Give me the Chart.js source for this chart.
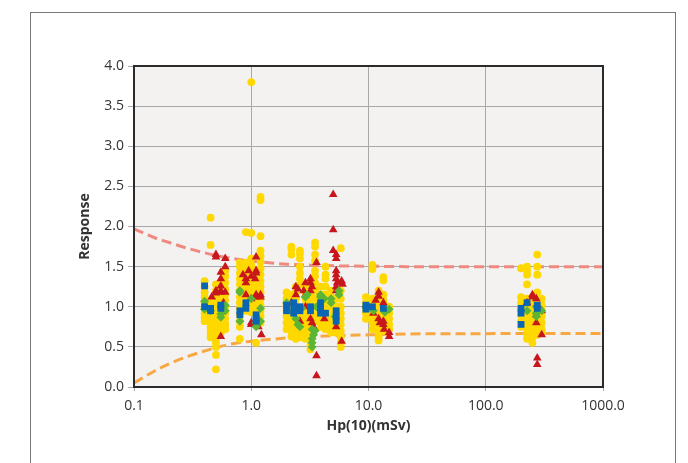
<!DOCTYPE html>
<html>
<head>
<meta charset="utf-8">
<script src="https://cdn.jsdelivr.net/npm/chart.js@4.4.1/dist/chart.umd.min.js"></script>
<style>
  html, body { margin: 0; padding: 0; background: #fff; }
  #wrap { position: relative; width: 688px; height: 463px; }
  #frame { position: absolute; left: 30px; top: 12px; width: 644px; height: 460px;
           border: 1px solid #777; border-bottom: none; }
  canvas { position: absolute; left: 0; top: 0; }
</style>
</head>
<body>
<div id="wrap">
  <div id="frame"></div>
  <canvas id="chart" width="688" height="463"></canvas>
</div>
<script>
// Axis ticks
const xTicks = [0.1, 1, 10, 100, 1000];
const yMin = 0, yMax = 4, yStep = 0.5;

// Trumpet limits
const upperLimit = [[0.1, 1.97], [0.15, 1.86], [0.2, 1.80], [0.3, 1.72], [0.5, 1.64], [0.7, 1.60],
                    [1, 1.57], [2, 1.53], [3, 1.52], [5, 1.51], [10, 1.505], [20, 1.50], [100, 1.50], [1000, 1.50]];
const lowerLimit = [[0.1, 0.05], [0.15, 0.20], [0.2, 0.29], [0.3, 0.39], [0.5, 0.49], [0.7, 0.54],
                    [1, 0.57], [2, 0.61], [3, 0.625], [5, 0.64], [10, 0.65], [20, 0.66], [100, 0.665], [1000, 0.667]];

// Measured responses [Hp(10), response]
const yellowPts = [
  // ~0.4-0.6 mSv
  [0.40,1.32],[0.40,1.25],[0.40,1.18],[0.40,1.12],[0.40,1.05],[0.40,0.98],[0.40,0.92],[0.40,0.87],[0.40,0.82],
  [0.45,2.11],[0.45,1.77],[0.45,1.08],[0.45,1.00],[0.45,0.95],[0.45,0.90],[0.45,0.85],[0.45,0.80],[0.45,0.75],[0.45,0.70],[0.45,0.66],[0.45,0.62],
  [0.50,0.40],[0.50,0.22],[0.50,1.28],[0.50,1.20],[0.50,1.10],[0.50,1.02],[0.50,0.95],[0.50,0.88],[0.50,0.82],[0.50,0.76],[0.50,0.70],[0.50,0.65],[0.50,0.60],[0.50,0.55],[0.50,0.50],
  [0.55,1.30],[0.55,1.22],[0.55,1.15],[0.55,1.08],[0.55,1.00],[0.55,0.93],[0.55,0.86],[0.55,0.80],[0.55,0.74],[0.55,0.68],
  [0.60,1.45],[0.60,1.38],[0.60,1.30],[0.60,1.22],[0.60,1.15],[0.60,1.08],[0.60,1.00],[0.60,0.92],[0.60,0.85],[0.60,0.78],[0.60,0.72],
  // ~0.8-1.2 mSv
  [0.80,1.55],[0.80,1.50],[0.80,1.42],[0.80,1.35],[0.80,1.28],[0.80,1.20],[0.80,1.12],[0.80,1.05],[0.80,0.98],[0.80,0.90],[0.80,0.82],[0.80,0.75],[0.80,0.60],
  [0.90,1.93],[0.90,1.55],[0.90,1.48],[0.90,1.40],[0.90,1.32],[0.90,1.25],[0.90,1.18],[0.90,1.10],[0.90,1.02],[0.90,0.95],
  [1.00,3.80],[1.00,1.92],[1.00,1.60],[1.00,1.52],[1.00,1.45],[1.00,1.38],[1.00,1.30],[1.00,1.22],[1.00,1.15],[1.00,1.08],[1.00,1.00],[1.00,0.93],
  [1.10,1.45],[1.10,1.38],[1.10,1.30],[1.10,1.22],[1.10,1.15],[1.10,1.08],[1.10,1.00],[1.10,0.92],[1.10,0.55],
  [1.20,2.37],[1.20,2.33],[1.20,1.88],[1.20,1.70],[1.20,1.63],[1.20,1.56],[1.20,1.48],[1.20,1.40],[1.20,1.32],[1.20,1.25],[1.20,1.18],[1.20,1.10],[1.20,1.02],[1.20,0.95],[1.20,0.88],[1.20,0.80],
  // ~2-6 mSv
  [2.0,1.18],[2.0,1.10],[2.0,1.02],[2.0,0.95],[2.0,0.88],[2.0,0.80],[2.0,0.72],
  [2.2,1.75],[2.2,1.72],[2.2,1.65],[2.2,1.15],[2.2,1.08],[2.2,1.00],[2.2,0.92],[2.2,0.85],[2.2,0.78],[2.2,0.70],[2.2,0.63],
  [2.4,1.25],[2.4,1.18],[2.4,1.10],[2.4,1.02],[2.4,0.95],[2.4,0.88],[2.4,0.80],[2.4,0.72],[2.4,0.65],[2.4,0.60],
  [2.6,1.70],[2.6,1.66],[2.6,1.60],[2.6,1.50],[2.6,1.42],[2.6,1.35],[2.6,1.28],[2.6,0.90],[2.6,0.82],[2.6,0.75],[2.6,0.68],[2.6,0.62],
  [2.9,1.25],[2.9,1.18],[2.9,1.10],[2.9,1.02],[2.9,0.95],[2.9,0.88],[2.9,0.80],[2.9,0.72],[2.9,0.65],[2.9,0.60],
  [3.2,1.30],[3.2,1.22],[3.2,1.15],[3.2,1.08],[3.2,0.75],[3.2,0.68],[3.2,0.60],[3.2,0.52],[3.2,0.47],
  [3.5,1.80],[3.5,1.75],[3.5,1.65],[3.5,1.57],[3.5,1.45],[3.5,1.38],[3.5,1.30],[3.5,1.20],[3.5,1.10],[3.5,1.00],[3.5,0.90],[3.5,0.82],
  [3.9,1.25],[3.9,1.15],[3.9,1.05],[3.9,0.98],[3.9,0.90],[3.9,0.82],[3.9,0.75],
  [4.3,1.50],[4.3,1.40],[4.3,1.35],[4.3,1.25],[4.3,1.15],[4.3,1.05],[4.3,0.95],[4.3,0.88],[4.3,0.80],[4.3,0.72],
  [4.8,1.20],[4.8,1.12],[4.8,1.05],[4.8,0.98],[4.8,0.90],[4.8,0.82],[4.8,0.75],[4.8,0.68],
  [5.3,1.10],[5.3,1.00],[5.3,0.90],[5.3,0.80],[5.3,0.72],[5.3,0.68],
  [5.8,1.73],[5.8,1.20],[5.8,1.10],[5.8,1.00],[5.8,0.92],[5.8,0.85],[5.8,0.78],[5.8,0.70],[5.8,0.62],[5.8,0.55],[5.8,0.50],
  // ~10-15 mSv
  [9.5,1.12],[9.5,1.05],[9.5,0.98],[9.5,0.92],[9.5,0.85],
  [10.8,1.52],[10.8,1.47],[10.8,1.10],[10.8,1.02],[10.8,0.95],[10.8,0.88],[10.8,0.80],[10.8,0.72],
  [12.2,1.20],[12.2,1.12],[12.2,1.05],[12.2,0.98],[12.2,0.90],[12.2,0.82],[12.2,0.75],[12.2,0.68],[12.2,0.62],[12.2,0.58],
  [13.4,1.37],[13.4,1.33],[13.4,1.15],[13.4,1.08],[13.4,1.00],[13.4,0.92],[13.4,0.85],[13.4,0.78],[13.4,0.70],
  [15,1.00],[15,0.92],[15,0.85],[15,0.78],[15,0.72],
  // ~200-300 mSv
  [200,1.48],[200,1.12],[200,1.05],[200,0.98],[200,0.90],[200,0.82],[200,0.75],
  [225,1.50],[225,1.45],[225,1.40],[225,1.28],[225,1.10],[225,1.02],[225,0.95],[225,0.88],[225,0.80],[225,0.72],[225,0.65],[225,0.60],
  [250,1.05],[250,0.98],[250,0.90],[250,0.82],[250,0.75],[250,0.68],[250,0.62],[250,0.55],
  [275,1.65],[275,1.50],[275,1.40],[275,1.18],[275,1.10],[275,1.02],[275,0.95],[275,0.88],[275,0.80],[275,0.72],[275,0.65],
  [300,1.10],[300,1.02],[300,0.95],[300,0.88],[300,0.80],[300,0.72],[300,0.68]
];

const redPts = [
  [0.50,1.65],[0.50,1.62],[0.50,1.20],[0.50,1.17],[0.46,1.12],[0.55,1.43],[0.55,1.35],[0.55,1.26],[0.55,1.20],
  [0.55,1.18],[0.55,0.63],[0.60,1.60],[0.60,1.50],[0.60,1.18],[0.58,1.05],
  [0.85,1.40],[0.90,1.35],[0.90,1.30],[0.90,1.15],[0.95,1.45],[1.00,1.38],[1.00,1.10],[1.00,0.80],[1.00,0.78],
  [1.10,1.62],[1.10,1.45],[1.10,1.42],[1.08,1.35],[1.10,1.15],[1.10,1.12],[1.15,0.75],[1.20,1.15],[1.20,1.12],[1.22,0.65],
  [5.0,2.40],[5.0,1.96],[5.0,1.70],[5.3,1.65],[5.3,1.60],[5.3,1.45],[5.3,1.40],[5.3,1.35],[5.4,1.30],[5.3,1.25],
  [5.3,1.20],[5.3,0.75],[3.6,1.55],[3.6,0.39],[3.6,0.14],[3.2,1.35],[3.2,1.30],[3.3,1.25],[3.2,1.20],[3.2,0.85],
  [2.4,1.25],[2.5,1.22],[2.4,1.15],[2.9,1.30],[2.8,1.20],[2.9,1.15],[2.9,1.00],[5.9,1.32],[5.9,0.57],[3.3,0.80],
  [3.4,0.75],[2.6,0.82],[4.2,0.85],[2.2,1.05],[6.0,1.28],
  [12.2,1.18],[12.2,1.13],[12.2,0.85],[12.5,0.80],[13.4,1.05],[13.4,0.82],[13.4,0.78],[13.6,0.72],[15,0.68],[15,0.63],[11,0.92],[11.5,1.08],
  [250,1.15],[250,1.12],[270,1.10],[270,0.90],[270,0.80],[300,0.65],[275,0.36],[275,0.28],[225,1.05],[300,0.95]
];

const greenPts = [
  [0.40,1.07],[0.40,0.97],[0.45,0.95],[0.55,0.87],[0.55,0.91],[0.60,1.02],[0.60,0.95],
  [0.80,1.20],[0.80,1.18],[0.80,0.82],[1.00,1.10],[1.10,0.80],[1.10,0.75],[1.20,0.98],[1.20,0.82],
  [2.0,1.05],[2.3,0.92],[2.4,0.85],[2.5,0.78],[2.6,0.75],[2.9,1.12],[3.0,1.15],[3.3,0.72],[3.4,0.65],[3.3,0.60],
  [3.3,0.55],[3.3,0.50],[3.5,0.70],[3.9,1.15],[3.9,1.12],[4.2,1.10],[4.8,1.05],[4.8,1.10],[5.6,1.15],[5.6,1.20],
  [5.2,0.88],[2.7,0.98],[3.6,1.00],
  [9.5,1.00],[11,0.95],[13.8,0.93],[15,0.97],
  [225,0.95],[270,0.92],[270,0.88],[270,1.00],[300,0.95]
];

const bluePts = [
  [0.40,1.26],[0.40,1.00],[0.45,0.98],[0.45,0.95],[0.55,1.02],[0.55,0.98],
  [0.80,0.95],[0.80,0.90],[0.90,1.05],[0.90,0.98],[1.10,0.90],[1.10,0.85],[1.10,0.82],
  [2.0,1.02],[2.0,0.95],[2.3,1.05],[2.3,0.98],[2.3,0.92],[2.6,1.00],[2.6,0.95],[3.2,1.00],[3.2,0.95],
  [3.9,1.05],[3.9,0.98],[3.9,0.92],[4.3,0.92],[5.3,0.95],[5.3,0.88],[5.3,0.82],
  [9.5,1.02],[9.5,0.97],[10.8,1.00],[13.4,0.98],
  [200,0.98],[200,0.92],[200,0.78],[225,1.05],[275,1.02],[275,0.98]
];

const toXY = arr => arr.map(([x, y]) => ({ x, y }));

const plotBg = {
  id: 'plotBg',
  beforeDraw(chart) {
    const { ctx, chartArea: a } = chart;
    ctx.save();
    ctx.fillStyle = '#f3f2f0';
    ctx.fillRect(a.left, a.top, a.right - a.left, a.bottom - a.top);
    ctx.restore();
  },
  afterDraw(chart) {
    const { ctx, chartArea: a } = chart;
    ctx.save();
    ctx.strokeStyle = '#2b2b2b';
    ctx.lineWidth = 2;
    ctx.strokeRect(a.left, a.top, a.right - a.left, a.bottom - a.top);
    ctx.restore();
  }
};

const pointSet = (data, style, color, r) => ({
  data: toXY(data),
  pointStyle: style,
  pointRadius: r,
  pointBackgroundColor: color,
  pointBorderColor: color,
  pointBorderWidth: 0,
  showLine: false,
});

const limitLine = (data, color) => ({
  data: toXY(data),
  showLine: true,
  borderColor: color,
  borderWidth: 3,
  borderDash: [10, 5],
  pointRadius: 0,
  cubicInterpolationMode: 'monotone',
  fill: false,
});

Chart.defaults.font.family = '"Open Sans", "Noto Sans", sans-serif';
Chart.defaults.color = '#333';

new Chart(document.getElementById('chart'), {
  type: 'scatter',
  data: {
    datasets: [
      pointSet(bluePts, 'rect', '#0a66b2', 4.8),
      pointSet(greenPts, 'rectRot', '#5db536', 4.5),
      pointSet(redPts, 'triangle', '#c8161d', 5),
      pointSet(yellowPts, 'circle', '#ffd800', 3.9),
      limitLine(upperLimit, '#f08a80'),
      limitLine(lowerLimit, '#f7a843'),
    ],
  },
  options: {
    responsive: false,
    animation: false,
    layout: { padding: { left: 73, right: 85, top: 66, bottom: 25 } },
    plugins: { legend: { display: false }, tooltip: { enabled: false } },
    scales: {
      x: {
        type: 'logarithmic',
        min: 0.1,
        max: 1000,
        afterBuildTicks: axis => { axis.ticks = xTicks.map(v => ({ value: v })); },
        afterFit: axis => { axis.height = 51; },
        ticks: {
          autoSkip: false,
          maxRotation: 0,
          padding: 7,
          font: { size: 14 },
          callback: v => (v === 0.1 ? '0.1' : Number(v).toFixed(1)),
        },
        grid: { color: '#a8a8a8', lineWidth: 1, tickLength: 4 },
        border: { display: false },
        title: { display: true, text: 'Hp(10)(mSv)', font: { size: 14, weight: 'bold' }, padding: { top: 4, bottom: 4 } },
      },
      y: {
        min: yMin,
        max: yMax,
        afterFit: axis => { axis.width = 61; },
        ticks: {
          stepSize: yStep,
          padding: 4,
          font: { size: 14 },
          callback: v => Number(v).toFixed(1),
        },
        grid: { color: '#a8a8a8', lineWidth: 1, tickLength: 6 },
        border: { display: false },
        title: { display: true, text: 'Response', font: { size: 14, weight: 'bold' }, padding: { top: 4, bottom: 4 } },
      },
    },
  },
  plugins: [plotBg],
});
</script>
</body>
</html>
